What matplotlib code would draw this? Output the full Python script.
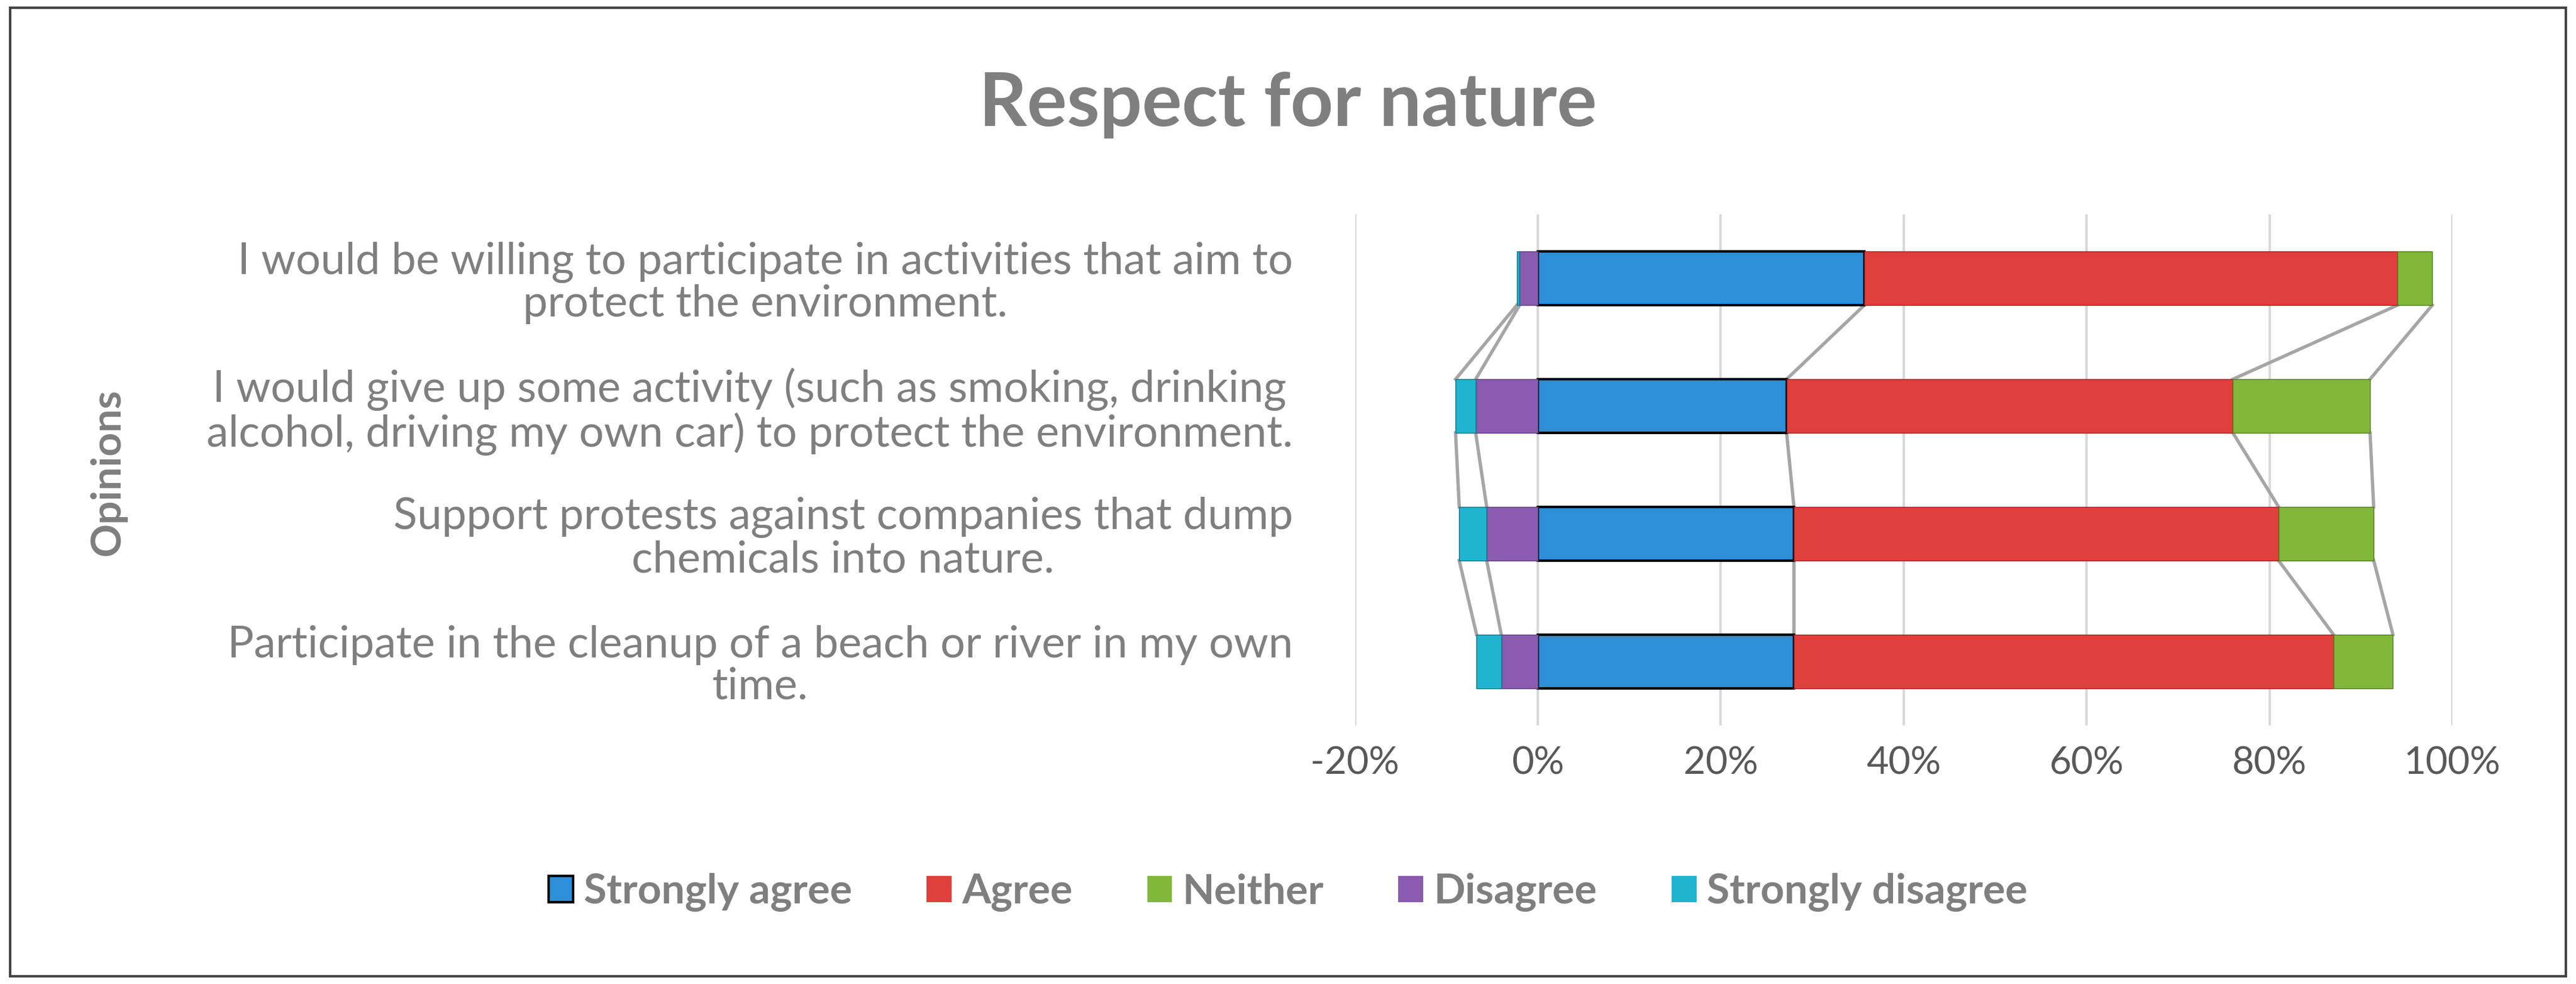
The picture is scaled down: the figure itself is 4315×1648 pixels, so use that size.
import matplotlib
matplotlib.use("Agg")
import matplotlib.pyplot as plt
import numpy as np
from matplotlib.patches import Patch, Rectangle

categories = [
    "I would be willing to participate in activities that aim to\nprotect the environment.",
    "I would give up some activity (such as smoking, drinking\nalcohol, driving my own car) to protect the environment.",
    "Support protests against companies that dump\nchemicals into nature.",
    "Participate in the cleanup of a beach or river in my own\ntime.",
]
strongly_agree = [35.7, 27.2, 28.0, 28.0]
agree = [58.3, 48.8, 53.0, 59.0]
neither = [3.8, 15.0, 10.4, 6.5]
disagree = [2.0, 6.8, 5.6, 4.0]
strongly_disagree = [0.3, 2.2, 3.0, 2.7]

plt.rcParams['font.family'] = ['Lato', 'DejaVu Sans']
fig = plt.figure(figsize=(43.15, 16.48), dpi=100)
fig.patches.append(Rectangle((0.004, 0.008), 0.992, 0.984, transform=fig.transFigure,
                             fill=False, edgecolor='#444444', lw=3))
ax = fig.add_axes([0.526, 0.263, 0.426, 0.519])

cols = {'sa': '#2C8FD8', 'a': '#E0403C', 'n': '#82B83A', 'd': '#8A5CB0', 'sd': '#1FB5CF'}
n = len(categories)
y = np.arange(n)[::-1]
h = 0.42
sa = np.array(strongly_agree); ag = np.array(agree); ne = np.array(neither)
di = np.array(disagree); sd = np.array(strongly_disagree)

ax.barh(y, sa, left=0, height=h, color=cols['sa'], edgecolor='black', lw=3, zorder=3)
ax.barh(y, ag, left=sa, height=h, color=cols['a'], edgecolor='#A02020', lw=1, zorder=3)
ax.barh(y, ne, left=sa + ag, height=h, color=cols['n'], edgecolor='#4F7A1F', lw=1, zorder=3)
ax.barh(y, -di, left=0, height=h, color=cols['d'], edgecolor='#5A3A7A', lw=1, zorder=3)
ax.barh(y, -sd, left=-di, height=h, color=cols['sd'], edgecolor='#107080', lw=1, zorder=3)

edges = [sa, sa + ag, sa + ag + ne, -di, -di - sd]
for e in edges:
    for i in range(n - 1):
        ax.plot([e[i], e[i + 1]], [y[i] - h / 2, y[i + 1] + h / 2], color='#A6A6A6', lw=4, zorder=2)

ax.set_xlim(-20, 100)
ax.set_ylim(-0.5, n - 0.5)
ax.set_xticks(np.arange(-20, 101, 20))
ax.set_xticklabels([f"{v}%" for v in range(-20, 101, 20)], fontsize=46, color='#595959')
ax.grid(axis='x', color='#D9D9D9', lw=3, zorder=0)
ax.axvline(0, color='white', lw=4, zorder=1)
for s in ax.spines.values():
    s.set_visible(False)
ax.tick_params(axis='both', length=0, pad=25)
ax.set_yticks(y)
ax.set_yticklabels(categories, fontsize=53, color='#7F7F7F', ha='right', multialignment='center',
                   linespacing=1.05)
ax.tick_params(axis='y', pad=75)
fig.text(0.042, 0.52, "Opinions", rotation=90, fontsize=50, fontweight='bold',
         color='#7F7F7F', ha='center', va='center')
fig.text(0.5, 0.894, "Respect for nature", fontsize=90, fontweight='bold',
         color='#7F7F7F', ha='center', va='center')

handles = [Patch(facecolor=cols['sa'], edgecolor='black', lw=3, label='Strongly agree'),
           Patch(facecolor=cols['a'], label='Agree'),
           Patch(facecolor=cols['n'], label='Neither'),
           Patch(facecolor=cols['d'], label='Disagree'),
           Patch(facecolor=cols['sd'], label='Strongly disagree')]
leg = fig.legend(handles=handles, loc='center', bbox_to_anchor=(0.5, 0.093), ncol=5,
                 frameon=False, fontsize=50, handlelength=0.6, handleheight=0.6,
                 columnspacing=1.8, handletextpad=0.25)
for t in leg.get_texts():
    t.set_color('#7F7F7F'); t.set_fontweight('bold')
fig.savefig("out.png", dpi=100)
